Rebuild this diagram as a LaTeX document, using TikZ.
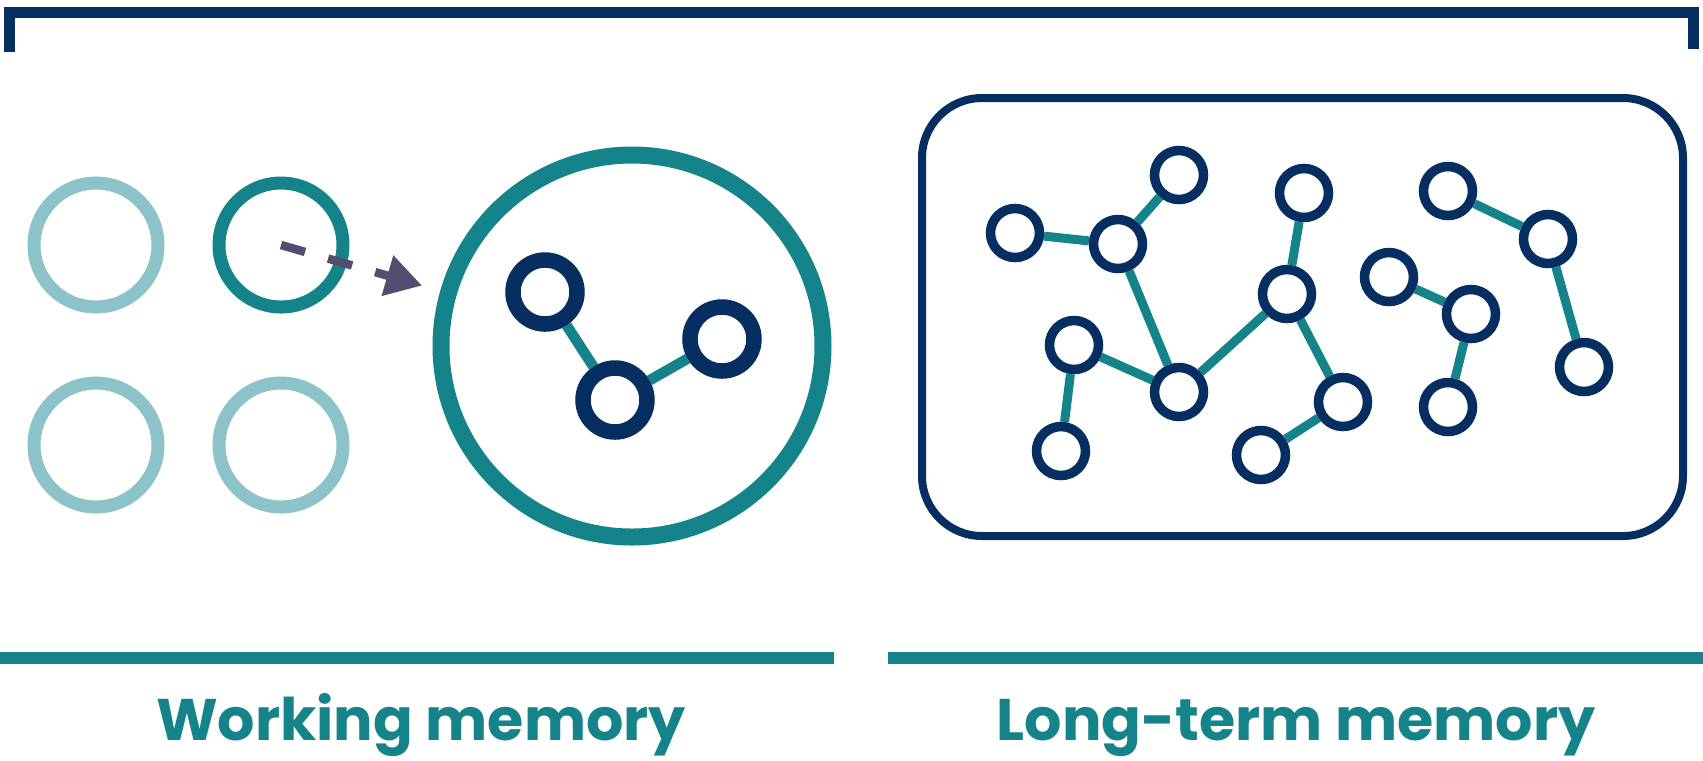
\documentclass[tikz,border=0pt]{standalone}
\usepackage{fontspec}
\newfontfamily\labelfont{Poppins}
\usetikzlibrary{arrows.meta, backgrounds}

\definecolor{navy}{HTML}{062E60}
\definecolor{teal}{HTML}{14838A}
\definecolor{paleteal}{HTML}{8CC3C8}
\definecolor{arrowgrey}{HTML}{534E71}

\tikzset{
    slot/.style={circle, draw=paleteal, line width=1.3mm, minimum size=12.4mm, inner sep=0pt},
    chunk/.style={circle, draw=navy, fill=white, line width=1.55mm, minimum size=6.4mm, inner sep=0pt},
    item/.style={circle, draw=navy, fill=white, line width=0.95mm, minimum size=4.9mm, inner sep=0pt},
    link/.style={draw=teal, line width=0.9mm},
    caption/.style={text=teal, anchor=base, font=\labelfont\bfseries\fontsize{16.7}{20}\selectfont}
}

\begin{document}
\begin{tikzpicture}[x=0.1mm, y=-0.1mm]
    \useasboundingbox (0,0) rectangle (1703,760);
    % top bracket
    \draw [navy, line width=1.1mm] (9.5,52) -- (9.5,12.5) -- (1693,12.5) -- (1693,49);

    % working memory: four slots, one in use
    \node (s1) at (96,245) [slot] {};
    \node (s2) at (281,245) [slot, draw=teal] {};
    \node (s3) at (96,445) [slot] {};
    \node (s4) at (281,445) [slot] {};
    \node (wm) at (632,346) [circle, draw=teal, line width=1.7mm, minimum size=38.2mm, inner sep=0pt] {};
    \node (c1) at (545,292) [chunk] {};
    \node (c2) at (615,400) [chunk] {};
    \node (c3) at (722,339) [chunk] {};
    \begin{scope}[on background layer]
        \draw [link, line width=1.05mm] (c1) -- (c2) -- (c3);
    \end{scope}
    \draw [arrowgrey, line width=0.85mm, dash pattern=on 2.5mm off 2.4mm,
        -{Triangle[length=3.6mm, width=4mm]}, shorten >=1.9mm] (s2.center) -- (wm);

    % long-term memory store
    \draw [navy, line width=0.8mm, rounded corners=6mm] (922,98) rectangle (1683,536);
    \node (n1) at (1015,233) [item] {};
    \node (n2) at (1118,244) [item] {};
    \node (n3) at (1179,175) [item] {};
    \node (n4) at (1304,193) [item] {};
    \node (n5) at (1287,294) [item] {};
    \node (n6) at (1074,345) [item] {};
    \node (n7) at (1179,392) [item] {};
    \node (n8) at (1061,451) [item] {};
    \node (n9) at (1343,402) [item] {};
    \node (n10) at (1261,455) [item] {};
    \node (n11) at (1448,191) [item] {};
    \node (n12) at (1548,239) [item] {};
    \node (n13) at (1389,277) [item] {};
    \node (n14) at (1471,314) [item] {};
    \node (n15) at (1448,407) [item] {};
    \node (n16) at (1584,367) [item] {};
    \begin{scope}[on background layer]
        \foreach \a/\b in {n1/n2, n2/n3, n2/n7, n6/n7, n6/n8, n7/n5, n5/n4, n5/n9,
                           n9/n10, n11/n12, n12/n16, n13/n14, n14/n15}
            \draw [link] (\a) -- (\b);
    \end{scope}

    % underlines and captions
    \draw [teal, line width=1.2mm] (0,658) -- (834,658);
    \draw [teal, line width=1.2mm] (888,658) -- (1703,658);
    \node (wmlabel) at (421,740) [caption] {Working memory};
    \node (ltmlabel) at (1296,740) [caption] {Long-term memory};
\end{tikzpicture}
\end{document}
